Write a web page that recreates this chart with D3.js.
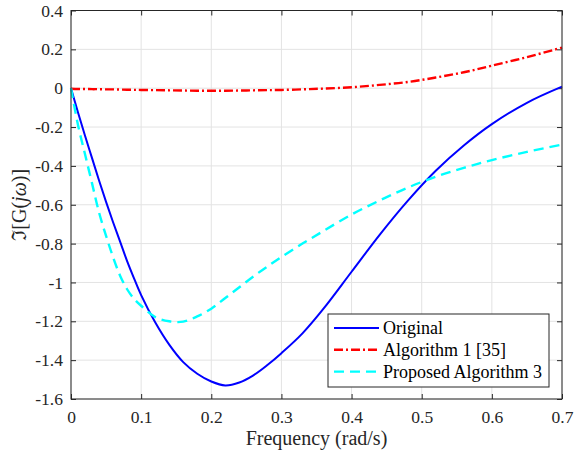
<!DOCTYPE html>
<html>
<head>
<meta charset="utf-8">
<script src="https://cdn.jsdelivr.net/npm/d3@7"></script>
<style>
  body { margin: 0; background: #fff; }
</style>
</head>
<body>
<div id="chart"></div>
<script>
// values
var freq = [0, 0.01, 0.02, 0.03, 0.04, 0.05, 0.06, 0.07, 0.08, 0.09, 0.1, 0.12, 0.14, 0.16, 0.18, 0.2,
    0.22, 0.24, 0.26, 0.28, 0.3, 0.33, 0.36, 0.4, 0.44, 0.48, 0.52, 0.56, 0.6, 0.65, 0.7];
var original = [0, -0.125, -0.245, -0.36, -0.475, -0.585, -0.69, -0.79, -0.89, -0.98, -1.065, -1.205, -1.32, -1.41, -1.47, -1.51,
    -1.53, -1.515, -1.478, -1.425, -1.364, -1.262, -1.135, -0.945, -0.755, -0.58, -0.425, -0.295, -0.185, -0.075, 0.008];
var algorithm1 = [-0.003, -0.004, -0.004, -0.005, -0.005, -0.006, -0.006, -0.007, -0.008, -0.0085, -0.009, -0.01, -0.011, -0.012, -0.013, -0.013,
    -0.013, -0.012, -0.011, -0.01, -0.009, -0.006, -0.002, 0.005, 0.017, 0.032, 0.055, 0.082, 0.116, 0.16, 0.209];
var proposed = [0, -0.19, -0.34, -0.49, -0.64, -0.76, -0.87, -0.965, -1.035, -1.085, -1.12, -1.178, -1.2, -1.202, -1.175, -1.135,
    -1.08, -1.025, -0.969, -0.918, -0.869, -0.8, -0.735, -0.65, -0.578, -0.512, -0.456, -0.41, -0.37, -0.328, -0.29];

var xTicks = [0, 0.1, 0.2, 0.3, 0.4, 0.5, 0.6, 0.7];
var yTicks = [-1.6, -1.4, -1.2, -1, -0.8, -0.6, -0.4, -0.2, 0, 0.2, 0.4];

var seriesNames = ["Original", "Algorithm 1 [35]", "Proposed Algorithm 3"];
var seriesColors = ["#0000ff", "#ff0000", "#00ffff"];
var seriesDash = [null, "9,3,2,3", "10,6"];
var seriesValues = [original, algorithm1, proposed];

var width = 574, height = 456;
var margin = {left: 71, right: 12, top: 10.5, bottom: 57};
var axisColor = "#262626";
var serif = "'Liberation Serif'";

var svg = d3.select("#chart").append("svg")
    .attr("width", width)
    .attr("height", height)
    .style("font-family", serif);

var x = d3.scaleLinear().domain([0, 0.7]).range([margin.left, width - margin.right]);
var y = d3.scaleLinear().domain([-1.6, 0.4]).range([height - margin.bottom, margin.top]);

var x0 = x.range()[0], x1 = x.range()[1];
var y0 = y.range()[0], y1 = y.range()[1];

// grid
var grid = svg.append("g");
grid.selectAll(".vg").data(xTicks).enter().append("line")
    .attr("x1", function (d) { return x(d); })
    .attr("x2", function (d) { return x(d); })
    .attr("y1", y1).attr("y2", y0)
    .attr("stroke", "#e3e3e3").attr("stroke-width", 1);
grid.selectAll(".hg").data(yTicks).enter().append("line")
    .attr("y1", function (d) { return y(d); })
    .attr("y2", function (d) { return y(d); })
    .attr("x1", x0).attr("x2", x1)
    .attr("stroke", "#e3e3e3").attr("stroke-width", 1);

// axes (ticks inward, box on)
function styleAxis(g) {
    g.attr("font-family", null).attr("font-size", null);
    g.select(".domain").remove();
    g.selectAll(".tick line").attr("stroke", axisColor);
    g.selectAll(".tick text").attr("fill", axisColor)
        .style("font-family", serif).style("font-size", "17.5px");
}
svg.append("g").attr("transform", "translate(0," + y0 + ")")
    .call(d3.axisBottom(x).tickValues(xTicks).tickSize(-5).tickPadding(12)
        .tickFormat(function (d) { return String(d); }))
    .call(styleAxis);
svg.append("g").attr("transform", "translate(0," + y1 + ")")
    .call(d3.axisTop(x).tickValues(xTicks).tickSize(-5).tickFormat(""))
    .call(styleAxis);
svg.append("g").attr("transform", "translate(" + x0 + ",0)")
    .call(d3.axisLeft(y).tickValues(yTicks).tickSize(-5).tickPadding(8)
        .tickFormat(function (d) { return String(+d.toFixed(1)); }))
    .call(styleAxis);
svg.append("g").attr("transform", "translate(" + x1 + ",0)")
    .call(d3.axisRight(y).tickValues(yTicks).tickSize(-5).tickFormat(""))
    .call(styleAxis);

// lines
var line = d3.line()
    .x(function (d, i) { return x(freq[i]); })
    .y(function (d) { return y(d); })
    .curve(d3.curveCatmullRom);

seriesValues.forEach(function (vals, i) {
    svg.append("path")
        .datum(vals)
        .attr("d", line)
        .attr("fill", "none")
        .attr("stroke", seriesColors[i])
        .attr("stroke-width", i === 0 ? 2 : 2.4)
        .attr("stroke-dasharray", seriesDash[i]);
});

// frame
svg.append("rect")
    .attr("x", x0).attr("y", y1)
    .attr("width", x1 - x0).attr("height", y0 - y1)
    .attr("fill", "none").attr("stroke", axisColor).attr("stroke-width", 1);

// axis labels
svg.append("text")
    .attr("x", (x0 + x1) / 2).attr("y", 445)
    .attr("text-anchor", "middle")
    .attr("fill", axisColor)
    .style("font-family", serif)
    .style("font-size", "20px")
    .text("Frequency (rad/s)");

var yl = svg.append("text")
    .attr("transform", "translate(26," + ((y0 + y1) / 2) + ") rotate(-90)")
    .attr("text-anchor", "middle")
    .attr("fill", axisColor)
    .style("font-family", serif)
    .style("font-size", "20px");
yl.append("tspan").text("\u2111[G(");
yl.append("tspan").style("font-style", "italic").text("j\u03C9");
yl.append("tspan").text(")]");

// legend
var legend = svg.append("g").attr("transform", "translate(328,314)");
legend.append("rect")
    .attr("width", 221).attr("height", 73)
    .attr("fill", "#fff").attr("stroke", axisColor).attr("stroke-width", 1);
var rows = legend.selectAll(".row").data(seriesNames).enter().append("g")
    .attr("transform", function (d, i) { return "translate(0," + (14 + i * 21.8) + ")"; });
rows.append("line")
    .attr("x1", 6).attr("x2", 51)
    .attr("stroke", function (d, i) { return seriesColors[i]; })
    .attr("stroke-width", function (d, i) { return i === 0 ? 2 : 2.4; })
    .attr("stroke-dasharray", function (d, i) { return seriesDash[i]; });
rows.append("text")
    .attr("x", 55).attr("dy", "0.35em")
    .attr("fill", "#000")
    .style("font-family", serif)
    .style("font-size", "18px")
    .text(function (d) { return d; });
</script>
</body>
</html>
